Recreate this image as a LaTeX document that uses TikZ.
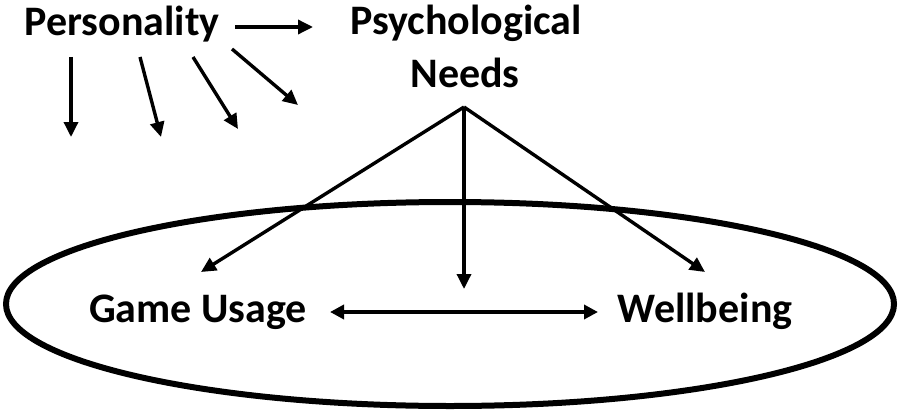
\documentclass[tikz,border=0pt]{standalone}
\usepackage{fontspec}
\setmainfont{Carlito}
\usetikzlibrary{arrows.meta}
\begin{document}
\begin{tikzpicture}[x=1pt,y=-1pt,
  lbl/.style={font=\fontsize{42}{46}\selectfont\bfseries, inner sep=0pt, anchor=base},
  arr/.style={line width=3.4pt, -{Triangle[length=15pt,width=14pt]}},
  darr/.style={line width=4.6pt, {Triangle[length=14pt,width=14pt]}-{Triangle[length=14pt,width=14pt]}},
  ring/.style={line width=6pt}]
\useasboundingbox (0,0) rectangle (901,412);
\draw[ring] (450,304) ellipse [x radius=444, y radius=102];
\node[lbl] (pers) at (122,36) {Personality};
\node[lbl] (psy) at (466,35) {Psychological};
\node[lbl] (needs) at (465,87) {Needs};
\node[lbl] (game) at (198,322) {Game Usage};
\node[lbl] (well) at (705,322) {Wellbeing};
\coordinate (ps) at (235,27);
\coordinate (pe) at (313,27);
\draw[arr] (ps) -- (pe);
\coordinate (a1s) at (71,57);  \coordinate (a1e) at (71,137);
\coordinate (a2s) at (140,57); \coordinate (a2e) at (161,137);
\coordinate (a3s) at (193,57); \coordinate (a3e) at (238,129);
\coordinate (a4s) at (232,49); \coordinate (a4e) at (298,105);
\draw[arr] (a1s) -- (a1e);
\draw[arr] (a2s) -- (a2e);
\draw[arr] (a3s) -- (a3e);
\draw[arr] (a4s) -- (a4e);
\coordinate (apex) at (464,107);
\coordinate (gt) at (201,272);
\coordinate (mt) at (464,289);
\coordinate (wt) at (705,272);
\draw[arr] (apex) -- (gt);
\draw[arr] (apex) -- (mt);
\draw[arr] (apex) -- (wt);
\coordinate (ds) at (330,312);
\coordinate (de) at (598,312);
\draw[darr] (ds) -- (de);
\end{tikzpicture}
\end{document}
